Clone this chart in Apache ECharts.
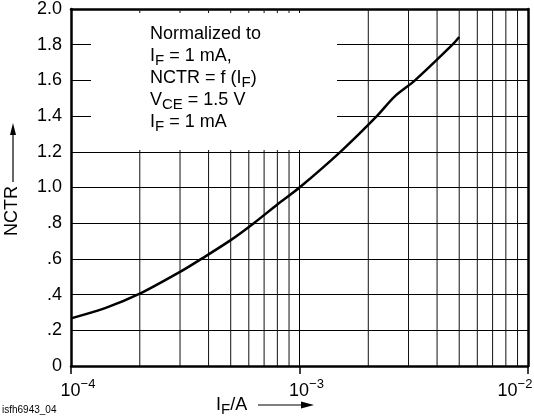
<!DOCTYPE html>
<html>
<head>
<meta charset="utf-8">
<script src="https://cdn.jsdelivr.net/npm/echarts@6/dist/echarts.min.js"></script>
<style>
  html, body { margin: 0; padding: 0; background: #fff; }
  #chart { width: 534px; height: 420px; }
</style>
</head>
<body>
<div id="chart"></div>
<script>
// ---- data ----
const currents = [1e-4, 1.41e-4, 2e-4, 3e-4, 3.72e-4, 5e-4, 6.31e-4, 8e-4, 1e-3, 1.51e-3, 2.18e-3, 2.6e-3, 3.2e-3, 4.67e-3, 5e-3];
const nctr = [0.267, 0.324, 0.405, 0.527, 0.6, 0.705, 0.8, 0.905, 1.0, 1.2, 1.4, 1.508, 1.6, 1.8, 1.843];
const minorGrid = [2e-4, 3e-4, 4e-4, 5e-4, 6e-4, 7e-4, 8e-4, 9e-4, 2e-3, 3e-3, 4e-3, 5e-3, 6e-3, 7e-3, 8e-3, 9e-3];
const yTickLabels = { '0': '0', '0.2': '.2', '0.4': '.4', '0.6': '.6', '0.8': '.8', '1': '1.0', '1.2': '1.2', '1.4': '1.4', '1.6': '1.6', '1.8': '1.8', '2': '2.0' };
const xTickLabels = { '-4': '−4', '-3': '−3', '-2': '−2' };
const noteLines = ['Normalized to', 'I{sub|F} = 1 mA,', 'NCTR = f (I{sub|F})', 'V{sub|CE} = 1.5 V', 'I{sub|F} = 1 mA'];

const FONT = '"Liberation Sans", Arial, Helvetica, sans-serif';
const chart = echarts.init(document.getElementById('chart'), null, { renderer: 'canvas' });

const borderLine = { show: true, onZero: false, lineStyle: { color: '#000', width: 2.5 } };
const pts = currents.map((c, i) => [c, nctr[i]]);

// vertical minor grid lines drawn as line segments through the axes' scales
const yMin = 0, yMax = 2;
const gridPts = [];
minorGrid.forEach(v => { gridPts.push([v, yMin], [v, yMax], [v, '-']); });

const option = {
  animation: false,
  backgroundColor: '#fff',
  grid: { left: 71, right: 6, top: 9, bottom: 54, outerBoundsMode: 'none', containLabel: false },
  xAxis: [
    {
      type: 'log', logBase: 10, min: 1e-4, max: 1e-2,
      axisLine: borderLine,
      axisTick: { show: true, length: 8, lineStyle: { color: '#000', width: 1.5 } },
      splitLine: { show: true, lineStyle: { color: '#000', width: 1 } },
      axisLabel: {
        margin: 8,
        formatter: function (v) {
          const e = Math.round(Math.log10(v));
          const sup = xTickLabels[String(e)] || e;
          if (e === -2) return '{b|10}{sr|' + sup + '}';
          return '{bp|10}{s|' + sup + '}';
        },
        rich: {
          b: { fontFamily: FONT, fontSize: 18, color: '#000', padding: [8, 0, 0, 0] },
          bp: { fontFamily: FONT, fontSize: 18, color: '#000', padding: [8, 0, 0, 14] },
          s: { fontFamily: FONT, fontSize: 13, color: '#000', padding: [0, 0, 6, 0] },
          sr: { fontFamily: FONT, fontSize: 13, color: '#000', padding: [0, 26, 6, 0] }
        }
      }
    },
    {
      type: 'log', logBase: 10, min: 1e-4, max: 1e-2, position: 'top',
      axisLine: borderLine, axisTick: { show: false }, axisLabel: { show: false }, splitLine: { show: false }
    }
  ],
  yAxis: [
    {
      type: 'value', min: yMin, max: yMax, interval: 0.2,
      axisLine: borderLine,
      axisTick: { show: false },
      splitLine: { show: true, lineStyle: { color: '#000', width: 1 } },
      axisLabel: {
        margin: 9,
        fontFamily: FONT, fontSize: 18, color: '#000',
        formatter: function (v) { return yTickLabels[String(Math.round(v * 10) / 10)]; }
      }
    },
    {
      type: 'value', min: yMin, max: yMax, interval: 0.2, position: 'right',
      axisLine: borderLine, axisTick: { show: false }, axisLabel: { show: false }, splitLine: { show: false }
    }
  ],
  series: [
    {
      type: 'line', data: gridPts, silent: true, z: 1,
      showSymbol: false, connectNulls: false,
      lineStyle: { color: '#111', width: 1 }
    },
    {
      type: 'line', z: 20,
      data: pts,
      showSymbol: false, smooth: 0.3,
      lineStyle: { color: '#000', width: 2.5 }
    }
  ],
  graphic: [
    { type: 'rect', z: 10, shape: { x: 91, y: 13, width: 246, height: 137 }, style: { fill: '#fff' } },
    {
      type: 'text', z: 11, left: 150, top: 23,
      style: {
        text: noteLines.join('\n'),
        font: '18px ' + FONT, fill: '#000', lineHeight: 22,
        rich: {
          sub: { fontFamily: FONT, fontSize: 15, fill: '#000', padding: [9, 0, 0, 0], lineHeight: 22 }
        }
      }
    },
    {
      type: 'text', z: 11, x: 12, y: 211, rotation: Math.PI / 2,
      style: { text: 'NCTR', font: '18px ' + FONT, fill: '#000', align: 'center', verticalAlign: 'middle' }
    },
    { type: 'line', z: 11, shape: { x1: 13, y1: 182, x2: 13, y2: 130 }, style: { stroke: '#000', lineWidth: 1.2 } },
    { type: 'polygon', z: 11, shape: { points: [[13, 123], [10, 135], [16, 135]] }, style: { fill: '#000' } },
    {
      type: 'text', z: 11, left: 216, top: 396,
      style: {
        text: 'I{sub|F}/A', font: '18px ' + FONT, fill: '#000',
        rich: { sub: { fontFamily: FONT, fontSize: 15, fill: '#000', padding: [9, 0, 0, 0] } }
      }
    },
    { type: 'line', z: 11, shape: { x1: 258, y1: 405, x2: 306, y2: 405 }, style: { stroke: '#000', lineWidth: 1.2 } },
    { type: 'polygon', z: 11, shape: { points: [[314, 405], [301, 401.5], [301, 408.5]] }, style: { fill: '#000' } },
    {
      type: 'text', z: 11, left: 2, top: 405,
      style: { text: 'isfh6943_04', font: '10px ' + FONT, fill: '#000' }
    }
  ]
};
chart.setOption(option);
</script>
</body>
</html>
